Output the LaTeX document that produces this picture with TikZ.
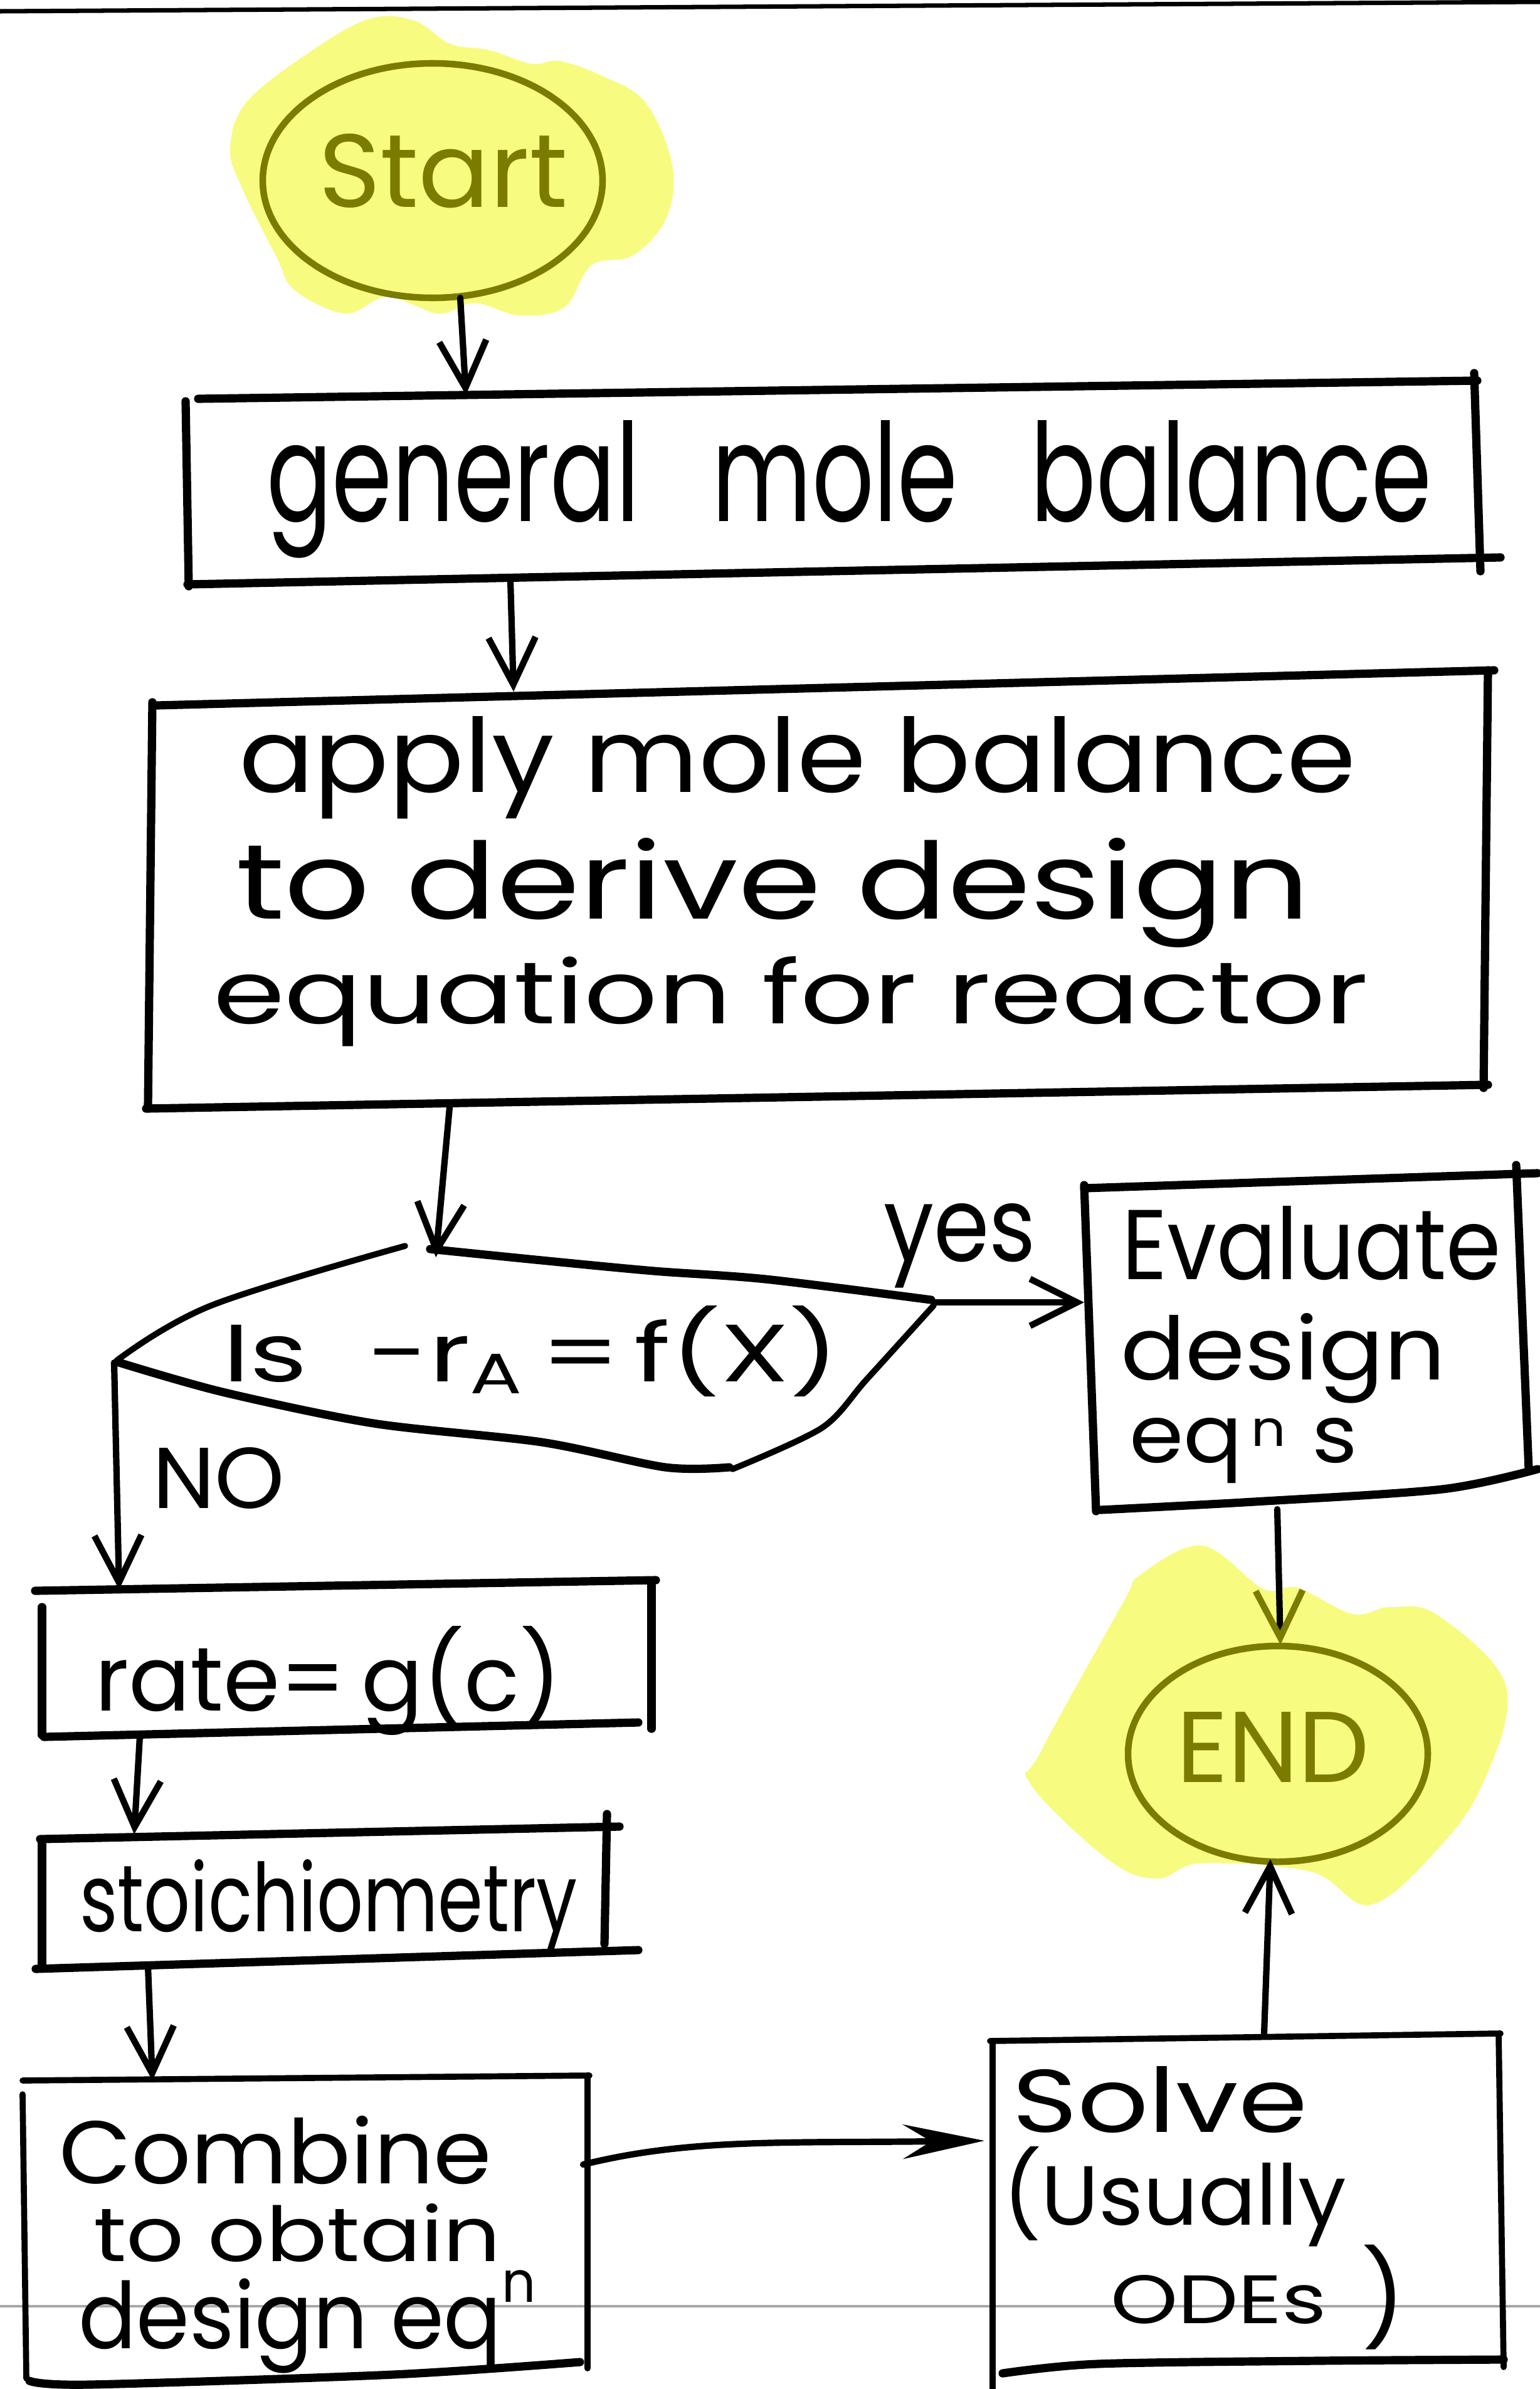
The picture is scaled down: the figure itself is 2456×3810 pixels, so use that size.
\documentclass[tikz,border=0pt]{standalone}
\usepackage{fontspec}
\setmainfont{Poppins}
\usepackage{graphicx}
\usetikzlibrary{arrows.meta}
\definecolor{hlyellow}{RGB}{247,252,128}
\definecolor{olivepen}{RGB}{123,123,0}
\definecolor{rulegray}{RGB}{168,168,168}
\newlength\pxu
\setlength\pxu{0.02cm}
% text scaled to a given width and height (in drawing units)
\newcommand\fit[3]{\resizebox{#1\pxu}{#2\pxu}{#3}}
% small raised letter, as in eq^n
\newcommand\rsup[2]{\raisebox{#1}{\scalebox{0.62}{#2}}}

\tikzset{
  boxpen/.style={line width=7.5pt, line cap=round, line join=round},
  thinpen/.style={line width=5.5pt, line cap=round, line join=round},
  conn/.style={line width=5.8pt, line cap=round, -{Straight Barb[length=1.5cm, width=1.5cm]}},
  hl/.style={fill=hlyellow, draw=none},
  ring/.style={draw=olivepen, line width=6pt},
  lbl/.style={anchor=base west, inner sep=0pt, outer sep=0pt},
}

\begin{document}
\begin{tikzpicture}[x=0.02cm, y=-0.02cm]
\fill[white] (0,0) rectangle (2456,3810);
\useasboundingbox (0,0) rectangle (2456,3810);

% page rules
\draw[rulegray, line width=2.2pt] (0,3678) -- (2456,3678);
\draw[line width=4pt] (0,18) -- (2456,3);

% highlighter blobs
\fill[hl] plot[smooth cycle, tension=0.6] coordinates {
  (589,30) (661,33) (718,70) (781,80) (848,102) (891,97) (958,120)
  (1029,163) (1072,263) (1063,347) (1010,407) (943,423) (900,490)
  (828,503) (757,483) (699,500) (618,473) (551,500) (470,463)
  (441,410) (386,300) (367,237) (393,163) (494,83)};
\fill[hl] plot[smooth cycle, tension=0.6] coordinates {
  (1818,2512) (1917,2465) (2015,2534) (2069,2532) (2157,2574)
  (2217,2563) (2293,2576) (2402,2690) (2364,2846) (2288,2954)
  (2184,3038) (2091,2985) (1917,2971) (1846,2996) (1769,2967)
  (1644,2846) (1660,2793) (1791,2556)};

% terminals
\draw[ring] (690,288) ellipse [x radius=271, y radius=187];
\node[lbl] (start) at (508,330) {\color{olivepen}\fit{397}{117}{Start}};
\draw[ring] (2038,2797) ellipse [x radius=239, y radius=172];
\node[lbl] (end) at (1876,2842) {\color{olivepen}\fit{308}{112}{END}};

% general mole balance
\draw[boxpen] (316,636) -- (2356,607);
\draw[boxpen] (296,640) -- (301,935);
\draw[boxpen] (2351,595) -- (2361,911);
\draw[boxpen] (299,932) -- (2393,889);
\node[lbl] (gmb) at (425,831) {\fit{1858}{161}{general\hspace{0.75em}mole\hspace{0.75em}balance}};

% design equation box
\draw[boxpen] (250,1125) -- (2383,1069);
\draw[boxpen] (243,1120) -- (236,1766);
\draw[boxpen] (2373,1069) -- (2366,1735);
\draw[boxpen] (233,1768) -- (2373,1730);
\node[lbl] (ap1) at (381,1263) {\fit{1781}{121}{apply mole balance}};
\node[lbl] (ap2) at (376,1465) {\fit{1713}{129}{to derive design}};
\node[lbl] (ap3) at (340,1632) {\fit{1841}{107}{equation for reactor}};

% decision
\draw[thinpen] plot[smooth, tension=0.6] coordinates {(186,2170) (337,2082) (646,1987)};
\draw[boxpen] plot[smooth, tension=0.5] coordinates {(686,1992) (864,2010) (1043,2027) (1221,2040) (1485,2073)};
\draw[thinpen] plot[smooth, tension=0.5] coordinates {(1489,2082) (1382,2200) (1311,2277) (1168,2343)};
\draw[boxpen] plot[smooth, tension=0.5] coordinates {(190,2173) (355,2220) (596,2270) (864,2300) (1061,2340) (1163,2340)};
\node[lbl] (dec) at (355,2203) {\fit{983}{121}{Is\hspace{0.55em}-r\textsubscript{A}\hspace{0.12em}=\hspace{0.12em}f(X)}};
\node[lbl] (yes) at (1409,2011) {\fit{243}{92}{yes}};
\node[lbl] (no) at (243,2405) {\fit{211}{97}{NO}};

% evaluate box
\draw[boxpen] (1729,1895) -- (2452,1871);
\draw[boxpen] (1729,1890) -- (1748,2410);
\draw[boxpen] (2418,1858) -- (2438,2343);
\draw[boxpen] plot[smooth, tension=0.5] coordinates {(1755,2408) (2000,2395) (2300,2375) (2452,2343)};
\node[lbl] (ev1) at (1789,2040) {\fit{605}{117}{Evaluate}};
\node[lbl] (ev2) at (1787,2200) {\fit{518}{106}{design}};
\node[lbl] (ev3) at (1801,2332) {\fit{364}{71}{eq\hspace{0.1em}\rsup{0.2em}{n}\hspace{0.3em}s}};

% rate box
\draw[boxpen] (56,2537) -- (1046,2520);
\draw[boxpen] (67,2563) -- (67,2767);
\draw[boxpen] (1039,2522) -- (1039,2757);
\draw[boxpen] (70,2770) -- (1018,2747);
\node[lbl] (rate) at (151,2728) {\fit{744}{135}{rate=\,g(c)}};

% stoichiometry box
\draw[boxpen] (64,2933) -- (988,2913);
\draw[boxpen] (67,2940) -- (67,3133);
\draw[boxpen] (968,2893) -- (964,3100);
\draw[boxpen] (57,3140) -- (1018,3110);
\node[lbl] (stoich) at (127,3080) {\fit{794}{115}{stoichiometry}};

% combine box
\draw[thinpen] (36,3318) -- (940,3310);
\draw[thinpen] (36,3340) -- (42,3793);
\draw[thinpen] (937,3310) -- (937,3777);
\draw[boxpen] plot[smooth, tension=0.5] coordinates {(47,3797) (141,3803) (627,3787) (925,3767)};
\node[lbl] (cb1) at (94,3482) {\fit{690}{108}{Combine}};
\node[lbl] (cb2) at (149,3606) {\fit{650}{92}{to obtain}};
\node[lbl] (cb3) at (125,3745) {\fit{729}{124}{design eq\rsup{0.5em}{n}}};

% solve box
\draw[thinpen] (1579,3255) -- (2393,3243);
\draw[thinpen] (1583,3255) -- (1583,3810);
\draw[thinpen] (2390,3243) -- (2398,3775);
\draw[boxpen] plot[smooth, tension=0.5] coordinates {(1599,3785) (1750,3770) (2100,3765) (2398,3763)};
\node[lbl] (sv1) at (1614,3400) {\fit{471}{105}{Solve}};
\node[lbl] (sv2) at (1599,3548) {\fit{548}{125}{(Usually}};
\node[lbl] (sv3) at (1771,3705) {\fit{345}{77}{ODEs}};
\node[anchor=north west, inner sep=0pt] (sv4) at (2171,3580) {\resizebox*{70\pxu}{167\pxu}{)}};

% connector ends
\coordinate (startS) at (734,475);
\coordinate (gmbN) at (743,630);
\coordinate (gmbS) at (814,925);
\coordinate (apN) at (819,1103);
\coordinate (apS) at (717,1766);
\coordinate (decT) at (695,2005);
\coordinate (decR) at (1489,2077);
\coordinate (evW) at (1729,2077);
\coordinate (decL) at (182,2173);
\coordinate (rateN) at (190,2535);
\coordinate (rateS) at (223,2769);
\coordinate (stN) at (214,2925);
\coordinate (stS) at (236,3136);
\coordinate (cbN) at (243,3318);
\coordinate (cbE) at (930,3452);
\coordinate (svW) at (1570,3414);
\coordinate (evS) at (2037,2407);
\coordinate (endN) at (2042,2623);
\coordinate (svN) at (2016,3243);
\coordinate (endS) at (2026,2965);

% connectors
\draw[conn] (startS) -- (gmbN);
\draw[conn] (gmbS) -- (apN);
\draw[conn] (apS) -- (decT);
\draw[conn] (decR) -- (evW);
\draw[conn] (decL) -- (rateN);
\draw[conn] (rateS) -- (stN);
\draw[conn] (stS) -- (cbN);
\draw[line width=5.8pt, line cap=round, -{Stealth[length=2.6cm, width=1.1cm, inset=0.9cm]}]
  (cbE) .. controls (1100,3410) and (1250,3418) .. (svW);
\draw[line width=5.8pt, line cap=round, -{Straight Barb[length=1.5cm, width=1.5cm, color=olivepen]}] (evS) -- (endN);
\draw[conn] (svN) -- (endS);
\end{tikzpicture}
\end{document}
